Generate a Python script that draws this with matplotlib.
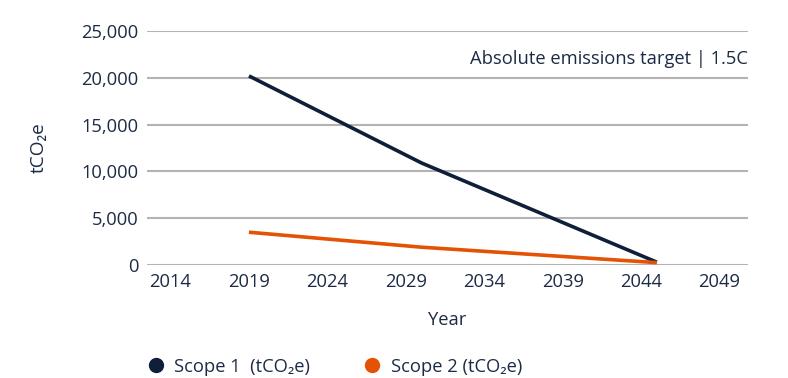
import matplotlib.pyplot as plt
from matplotlib.lines import Line2D
from matplotlib.ticker import FuncFormatter

plt.rcParams['font.family'] = ['Open Sans', 'DejaVu Sans']

# emissions pathway to 2045
years = [2019, 2030, 2045]
scope1 = [20200, 10900, 300]
scope2 = [3500, 1900, 250]
year_ticks = [2014, 2019, 2024, 2029, 2034, 2039, 2044, 2049]
y_ticks = [0, 5000, 10000, 15000, 20000, 25000]

navy = '#0f1f3a'
orange = '#e35205'
text_col = '#1c2b45'
grid_col = '#b3b3b3'
fs = 13.2

fig = plt.figure(figsize=(7.88, 3.78), dpi=100)
ax = fig.add_axes([0.1865, 0.299, 0.7625, 0.619])

ax.plot(years, scope1, color=navy, linewidth=2.6, solid_capstyle='butt', zorder=3)
ax.plot(years, scope2, color=orange, linewidth=2.6, solid_capstyle='butt', zorder=3)

ax.set_xlim(2012.5, 2050.8)
ax.set_ylim(0, 25000)
ax.set_xticks(year_ticks)
ax.set_yticks(y_ticks)
ax.yaxis.set_major_formatter(FuncFormatter(lambda v, p: f'{int(v):,}'))
ax.tick_params(axis='both', length=0, labelsize=fs, colors=text_col)
ax.tick_params(axis='y', pad=6)
ax.tick_params(axis='x', pad=6)

ax.grid(axis='y', color=grid_col, linewidth=1.5)
ax.set_axisbelow(True)
for s in ax.spines.values():
    s.set_visible(False)

ax.set_xlabel('Year', fontsize=fs, color=text_col, labelpad=14)
ax.set_ylabel('tCO₂e', fontsize=fs + 0.5, color=text_col, labelpad=24)

ax.text(1.0, 0.88, 'Absolute emissions target | 1.5C', transform=ax.transAxes,
        ha='right', va='center', fontsize=fs, color=text_col)

handles = [
    Line2D([], [], marker='o', linestyle='none', markersize=10, color=navy),
    Line2D([], [], marker='o', linestyle='none', markersize=10, color=orange),
]
leg = fig.legend(handles, ['Scope 1  (tCO₂e)', 'Scope 2 (tCO₂e)'],
                 loc='center left', bbox_to_anchor=(0.165, 0.03), ncol=2,
                 frameon=False, fontsize=fs, handletextpad=0.5,
                 columnspacing=2.9, handlelength=1.0)
for t in leg.get_texts():
    t.set_color(text_col)

fig.savefig('out.png', dpi=100)
